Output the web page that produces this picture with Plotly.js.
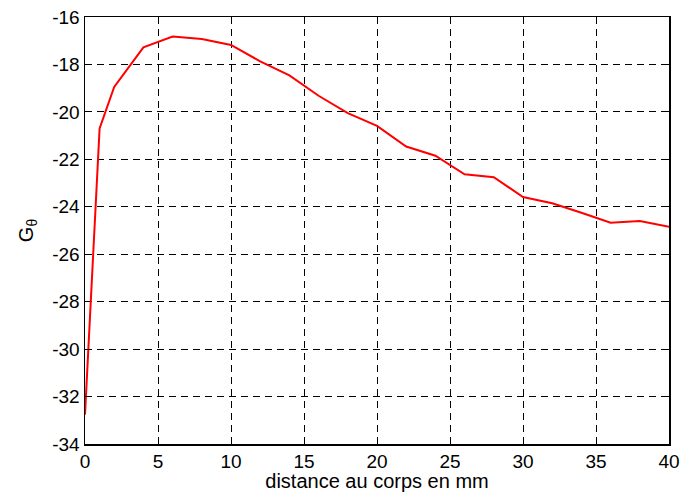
<!DOCTYPE html>
<html>
<head>
<meta charset="utf-8">
<script src="https://cdn.plot.ly/plotly-3.0.1.min.js"></script>
<style>html,body{margin:0;padding:0;background:#fff;}#chart{width:680px;height:492px;}</style>
</head>
<body>
<div id="chart"></div>
<script>
const distance = [0, 1, 2, 4, 6, 8, 10, 12, 14, 16, 18, 20, 22, 24, 26, 28, 30, 32, 34, 36, 38, 40];
const gTheta = [-32.76, -20.7, -18.95, -17.28, -16.82, -16.93, -17.18, -17.87, -18.46, -19.32, -20.05, -20.59, -21.46, -21.85, -22.63, -22.75, -23.59, -23.85, -24.25, -24.67, -24.6, -24.84];
const xTicks = [0, 5, 10, 15, 20, 25, 30, 35, 40];
const yTicks = [-34, -32, -30, -28, -26, -24, -22, -20, -18, -16];

const tickFont = {family: 'Liberation Sans, Arial, sans-serif', size: 19, color: '#000'};
const titleFont = {family: 'Liberation Sans, Arial, sans-serif', size: 20, color: '#000'};
const axisCommon = {
  showline: true, linecolor: '#000', linewidth: 1.5, mirror: 'ticks',
  ticks: 'inside', ticklen: 5, tickcolor: '#000', tickwidth: 1,
  showgrid: true, gridcolor: '#000', gridwidth: 1, griddash: '7px,5px',
  zeroline: false, tickfont: tickFont, ticklabeloverflow: 'allow'
};
Plotly.newPlot('chart', [{
  x: distance, y: gTheta, type: 'scatter', mode: 'lines',
  line: {color: '#ff0000', width: 2}
}], {
  width: 680, height: 492,
  margin: {l: 85, r: 11, t: 17, b: 48},
  paper_bgcolor: '#fff', plot_bgcolor: '#fff',
  showlegend: false,
  font: tickFont,
  xaxis: Object.assign({}, axisCommon, {
    range: [0, 40], tickvals: xTicks, ticktext: xTicks.map(String),
    title: {text: 'distance au corps en mm', font: titleFont, standoff: 5}
  }),
  yaxis: Object.assign({}, axisCommon, {
    range: [-34, -16], tickvals: yTicks, ticktext: yTicks.map(String),
    title: {text: 'G<sub>θ</sub>', font: titleFont, standoff: 13}
  })
}, {displayModeBar: false, staticPlot: true});
</script>
</body>
</html>
